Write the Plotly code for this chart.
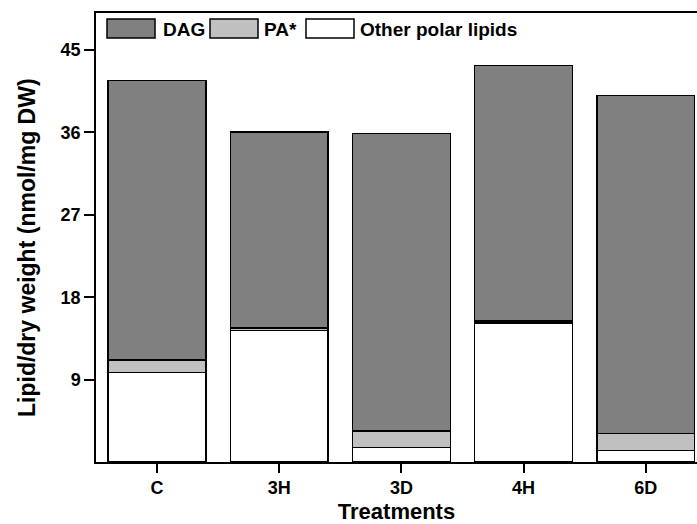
import plotly.graph_objects as go

categories = ["C", "3H", "3D", "4H", "6D"]
other_polar = [9.76, 14.35, 1.61, 15.16, 1.23]
pa = [1.39, 0.29, 1.78, 0.26, 1.91]
dag = [30.5, 21.4, 32.5, 27.9, 36.9]
series_names = ["DAG", "PA*", "Other polar lipids"]
y_ticks = [9, 18, 27, 36, 45]

FONT = "Liberation Sans, Arial, sans-serif"
colors = {"DAG": "#808080", "PA*": "#c0c0c0", "Other polar lipids": "#ffffff"}

fig = go.Figure()
for name, vals in [("Other polar lipids", other_polar), ("PA*", pa), ("DAG", dag)]:
    fig.add_trace(go.Bar(
        x=categories, y=vals, name=name,
        marker=dict(color=colors[name], line=dict(color="black", width=1.5)),
        showlegend=False,
    ))

# custom legend (wide swatches like the reference)
L, R, T, B = 96, 697, 13, 462
W, H = R - L, B - T
def px(x):
    return (x - L) / W
def py(y):
    return (B - y) / H

swatch_x = [107, 210, 306]
text_x = [161, 262, 358]
for i, name in enumerate(series_names):
    fig.add_shape(type="rect", xref="paper", yref="paper",
                  x0=px(swatch_x[i]), x1=px(swatch_x[i] + 48),
                  y0=py(38), y1=py(19),
                  fillcolor=colors[name], line=dict(color="black", width=1.5))
    fig.add_annotation(xref="paper", yref="paper", x=px(text_x[i]), y=py(29),
                       text=f"<b>{name}</b>", showarrow=False,
                       xanchor="left", yanchor="middle",
                       font=dict(family=FONT, size=19, color="black"))

# y-axis title placed like the reference
fig.add_annotation(xref="paper", yref="paper", x=px(27), y=py(248),
                   text="<b>Lipid/dry weight (nmol/mg DW)</b>", showarrow=False,
                   textangle=-90, xanchor="center", yanchor="middle",
                   font=dict(family=FONT, size=23, color="black"))

fig.update_layout(
    barmode="stack", bargap=0.2,
    width=697, height=524,
    margin=dict(l=L, r=697 - R, t=T, b=524 - B),
    plot_bgcolor="white", paper_bgcolor="white",
    font=dict(family=FONT, color="black"),
)
fig.update_xaxes(
    range=[-0.5, 4.42], showline=True, linecolor="black", linewidth=1.5,
    mirror=True, ticks="outside", ticklen=9, tickwidth=1.5, tickcolor="black",
    showgrid=False, zeroline=False, automargin=False,
    tickfont=dict(family=FONT, size=18), tickprefix="<b>", ticksuffix="</b>",
    title=dict(text="<b>Treatments</b>", font=dict(family=FONT, size=22)),
)
fig.update_yaxes(
    range=[0, 49.05], showline=True, linecolor="black", linewidth=1.5,
    ticks="outside", ticklen=10, tickwidth=1.5, tickcolor="black",
    tickvals=y_ticks, ticktext=[f"<b>{v}</b>" for v in y_ticks],
    showgrid=False, zeroline=False, automargin=False,
    tickfont=dict(family=FONT, size=18),
)

fig.write_html("out.html", config={"displayModeBar": False},
               post_script="document.body.style.margin='0';document.body.style.overflow='hidden';")
